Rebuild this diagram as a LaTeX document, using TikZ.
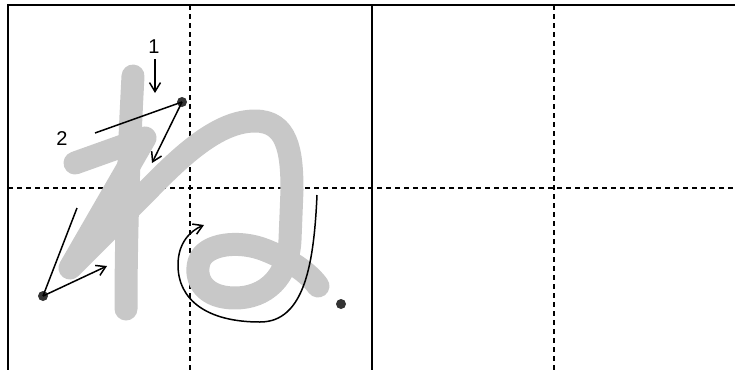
\documentclass[tikz,border=0pt]{standalone}
\usepackage{fontspec}
\setmainfont{Liberation Sans}
\usetikzlibrary{arrows.meta}
\definecolor{strokegray}{HTML}{C8C8C8}
\definecolor{dotgray}{HTML}{333333}
\tikzset{
  gridsolid/.style={line width=1.8pt, black},
  griddash/.style={line width=1.5pt, black, dash pattern=on 5pt off 4pt},
  charstroke/.style={line width=23pt, strokegray, line cap=round, line join=round},
  guide/.style={line width=1.5pt, black},
  guidearrow/.style={line width=1.5pt, black, -{Straight Barb[length=9pt,width=11pt]}},
  startdot/.style={circle, fill=dotgray, inner sep=0pt, minimum size=10pt},
  numlabel/.style={font=\fontsize{20}{20}\selectfont, inner sep=0pt},
}
\begin{document}
\begin{tikzpicture}[x=1pt,y=-1pt]
\useasboundingbox (0,0) rectangle (735,370);
% grid
\draw[griddash] (8,188) -- (735,188);
\draw[griddash] (190,5) -- (190,370);
\draw[griddash] (554,5) -- (554,370);
\draw[gridsolid] (735,5) -- (8,5) -- (8,370);
\draw[gridsolid] (372,5) -- (372,370);
% character strokes
\draw[charstroke] (133,76) .. controls (129,150) and (126,230) .. (126,309);
\draw[charstroke] (75,163) -- (145,138) -- (70,268) -- (150,188)
  .. controls (185,152) and (220,121) .. (255,121)
  .. controls (287,121) and (292,150) .. (292,190)
  -- (290,240) .. controls (288,278) and (265,298) .. (235,298)
  .. controls (205,298) and (194,280) .. (199,262)
  .. controls (205,243) and (240,240) .. (265,250)
  .. controls (288,259) and (308,272) .. (318,286);
% labels and dots
\node[numlabel] (l1) at (154,47) {1};
\node[numlabel] (l2) at (62,139) {2};
\node[startdot] (d1) at (182,102) {};
\node[startdot] (d2) at (43,296) {};
\node[startdot] (d3) at (341,304) {};
% guide coordinates
\coordinate (a1s) at (155,59);
\coordinate (a1e) at (155,93);
\coordinate (g2s) at (95,133);
\coordinate (a2e) at (152,163);
\coordinate (g3s) at (77,208);
\coordinate (a3e) at (107,266);
\coordinate (c0) at (317,195);
\coordinate (c1) at (260,322);
\coordinate (c2) at (178,265);
\coordinate (c3) at (204,225);
% guides
\draw[guidearrow] (a1s) -- (a1e);
\draw[guide] (g2s) -- (d1.center);
\draw[guidearrow] (d1.center) -- (a2e);
\draw[guide] (g3s) -- (d2.center);
\draw[guidearrow] (d2.center) -- (a3e);
\draw[guidearrow] (c0) .. controls (314,262) and (305,322) .. (c1)
  .. controls (207,322) and (178,300) .. (c2)
  .. controls (178,243) and (190,231) .. (c3);
\end{tikzpicture}
\end{document}
